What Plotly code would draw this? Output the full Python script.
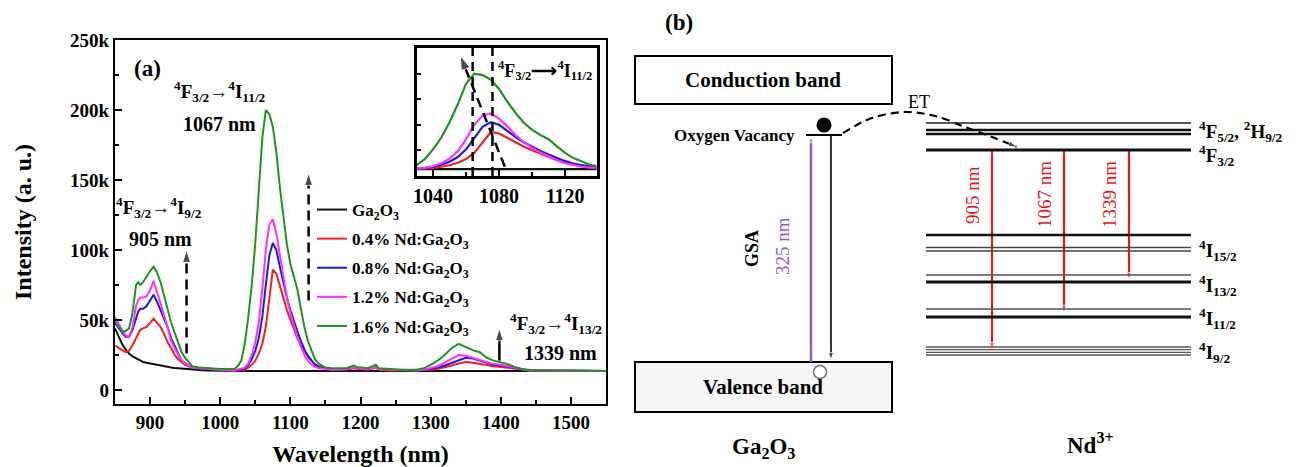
import plotly.graph_objects as go

W, H = 1301, 467
FONT = "Liberation Serif"

# ---------------- Panel (a) data (intensity in thousands) ----------------
wavelength = [850, 855, 860, 865, 870, 875, 880, 883, 886, 890,
              895, 900, 905, 910, 915, 920, 925, 930, 935, 940,
              945, 950, 960, 970, 980, 1000, 1020, 1025, 1030, 1035,
              1040, 1045, 1050, 1055, 1060, 1065, 1070, 1075, 1080, 1085,
              1090, 1095, 1100, 1105, 1110, 1115, 1120, 1125, 1130, 1135,
              1140, 1150, 1160, 1180, 1190, 1195, 1210, 1222, 1226, 1240,
              1260, 1280, 1290, 1300, 1310, 1320, 1330, 1340, 1350, 1360,
              1370, 1380, 1390, 1400, 1410, 1420, 1430, 1440, 1460, 1500,
              1550]

ga2o3 = [44, 38, 33, 29, 26, 24, 22.5, 22, 21, 20,
         19.5, 19, 18.5, 18, 17, 16.8, 16.5, 16, 15.7, 15.5,
         15.2, 15, 14.5, 14.2, 14, 13.8, 13.5, 13.5, 13.5, 13.5,
         13.5, 13.5, 13.5, 13.5, 13.5, 13.5, 13.5, 14, 13.5, 13.5,
         13.5, 13.5, 13.5, 13.5, 13.5, 13.5, 13.5, 13.5, 13.5, 13.5,
         13.5, 13.5, 13.5, 13.5, 13.5, 13.5, 13.5, 13.5, 13.5, 13.5,
         13.5, 13.5, 13.5, 13.5, 13.5, 13.5, 13.5, 13.5, 13.5, 13.5,
         13.5, 13.5, 13.5, 13.5, 13.5, 13.5, 13.5, 13.5, 13.5, 13.5,
         13.5]

nd04 = [32, 30, 28.5, 27, 28, 32, 37, 40, 43, 44,
        45, 48, 51, 48, 45, 40, 34, 30, 25, 22,
        20, 18, 16, 15.5, 15, 14.5, 14, 14, 14, 14.5,
        16, 18, 21, 26, 33, 45, 65, 86, 83, 75,
        66, 57, 50, 43, 37, 32, 27.5, 24, 21, 18.5,
        17, 15.5, 14.5, 14.5, 15.5, 15, 14.5, 16, 14.5, 14,
        14, 14, 14, 14.5, 15, 16, 17.5, 19, 20, 19.5,
        18.5, 17.5, 17, 16.5, 16, 15, 14.5, 14, 14, 13.8,
        13.5]

nd08 = [48, 44, 41, 38, 38, 43, 52, 56, 58, 58,
        60, 64, 68, 63, 57, 51, 45, 37, 32, 27,
        21, 19, 16, 15.5, 15, 14.5, 14, 14, 14.5, 15.5,
        18, 22, 28, 37, 52, 75, 96, 105, 100, 88,
        76, 66, 57, 49, 42, 35, 29, 24.5, 21, 18,
        16.5, 15.5, 14.5, 15, 16, 15.5, 15, 16.5, 15, 14.5,
        14, 14, 14.2, 15, 16, 17.5, 19.5, 21.5, 23, 22.5,
        21, 19, 18, 17.5, 16.5, 15.5, 14.5, 14, 14, 13.8,
        13.5]

nd12 = [52, 47, 43, 39, 38, 45, 60, 64, 66, 66,
        67, 71, 78, 70, 61, 53, 45, 35, 30, 26,
        21, 19, 16, 15.5, 15, 14.5, 14, 14.5, 15, 16,
        19, 25, 34, 48, 72, 100, 118, 122, 112, 97,
        80, 66, 55, 46, 38, 31, 25, 21, 18, 16.5,
        15.5, 15, 14.5, 15, 16, 15.5, 15, 16.5, 15, 14.5,
        14, 14, 14.5, 15.5, 17, 19.5, 22.5, 25, 24.5, 23,
        21.5, 19.5, 18.5, 18, 17, 15.5, 14.5, 14, 14, 13.8,
        13.5]

nd16 = [49, 45, 42, 42, 44, 55, 75, 77, 75, 77,
        81, 85, 88, 84, 77, 67, 57, 48, 41, 34,
        27, 23, 17, 16, 15.5, 15, 15, 17, 21, 33,
        52, 75, 105, 140, 180, 200, 197, 188, 170, 145,
        123, 104, 90, 80, 72, 58, 45, 35, 28, 22,
        19, 16, 15.5, 15.5, 17.5, 16.5, 15.5, 18, 15.5, 15,
        14.5, 14.5, 15.5, 18, 21, 25, 30, 33, 30.5, 28.5,
        27, 23, 21, 20, 18.5, 16.5, 15, 14.5, 14, 14,
        13.5]

series_names = ["Ga<sub>2</sub>O<sub>3</sub>",
                "0.4% Nd:Ga<sub>2</sub>O<sub>3</sub>",
                "0.8% Nd:Ga<sub>2</sub>O<sub>3</sub>",
                "1.2% Nd:Ga<sub>2</sub>O<sub>3</sub>",
                "1.6% Nd:Ga<sub>2</sub>O<sub>3</sub>"]
series_values = [ga2o3, nd04, nd08, nd12, nd16]
series_colors = ["#111111", "#f02020", "#1a1ae8", "#ff30ff", "#1f951f"]

y_ticks = [0, 50, 100, 150, 200, 250]
y_ticktext = ["0", "50k", "100k", "150k", "200k", "250k"]
x_ticks = [900, 1000, 1100, 1200, 1300, 1400, 1500]
inset_ticks = [1040, 1080, 1120]

# transition arrows in panel (a): wavelength, start, end (k)
arrow_wl = [952, 1126, 1398]
arrow_from = [26, 64, 21]
arrow_to = [100, 155, 44]
arrow_dash = ["10px,6px", "10px,6px", "solid"]

# inset guides
inset_guides = [1064, 1076]
inset_arrow_wl = [1083.5, 1056.5]
inset_arrow_int = [18, 235]

# ---------------- Panel (b) diagram geometry (pixel units) ----------------
level_y = [123, 130, 134, 150, 235, 247.5, 251, 275, 282, 309, 317, 347, 349.7, 352.3, 355]
level_w = [1.5, 2.5, 2.5, 3.2, 2.5, 1.5, 1.5, 1.4, 2.8, 1.4, 2.8, 1.3, 1.3, 1.3, 1.3]
level_c = ["#222", "#111", "#111", "#111", "#111", "#444", "#444", "#555", "#111",
           "#555", "#111", "#555", "#555", "#555", "#555"]
level_x0, level_x1 = 926, 1191
level_labels = ["<sup>4</sup>F<sub>5/2</sub>, <sup>2</sup>H<sub>9/2</sub>",
                "<sup>4</sup>F<sub>3/2</sub>",
                "<sup>4</sup>I<sub>15/2</sub>",
                "<sup>4</sup>I<sub>13/2</sub>",
                "<sup>4</sup>I<sub>11/2</sub>",
                "<sup>4</sup>I<sub>9/2</sub>"]
level_label_y = [131, 155, 250, 285, 318, 352]

emission_x = [992, 1064, 1129]
emission_to = [350, 313, 280]
emission_from = 150
emission_text = ["905 nm", "1067 nm", "1339 nm"]

et_x = [843, 872, 905, 935, 965, 992, 1017]
et_y = [133, 118, 112, 116, 127, 137, 147]

W_ = float(W)


def px(x):
    return x / W_


def py(y):
    return 1 - y / H


fig = go.Figure()

# main spectra
for i, (nm, vals, col) in enumerate(zip(series_names, series_values, series_colors)):
    fig.add_trace(go.Scatter(x=wavelength, y=vals, mode="lines", name=nm,
                             line=dict(color=col, width=2), legendgroup=f"g{i}",
                             xaxis="x", yaxis="y"))
# inset spectra
for i, (nm, vals, col) in enumerate(zip(series_names, series_values, series_colors)):
    fig.add_trace(go.Scatter(x=wavelength, y=vals, mode="lines", showlegend=False,
                             line=dict(color=col, width=2.2), xaxis="x2", yaxis="y2"))

# dashed arrows in main panel
for wl, a, b, d in zip(arrow_wl, arrow_from, arrow_to, arrow_dash):
    fig.add_trace(go.Scatter(x=[wl, wl], y=[a, b], mode="lines+markers", showlegend=False,
                             line=dict(color="black", width=2.5, dash=d),
                             marker=dict(symbol="arrow", size=[0, 13], angleref="previous",
                                         color="black"),
                             xaxis="x", yaxis="y"))

# inset guides and arrow
for g in inset_guides:
    fig.add_trace(go.Scatter(x=[g, g], y=[0, 250], mode="lines", showlegend=False,
                             line=dict(color="black", width=2.5, dash="9px,6px"),
                             xaxis="x2", yaxis="y2"))
fig.add_trace(go.Scatter(x=inset_arrow_wl, y=inset_arrow_int, mode="lines+markers",
                         showlegend=False,
                         line=dict(color="black", width=2.5, dash="10px,6px"),
                         marker=dict(symbol="arrow", size=[0, 15], angleref="previous",
                                     color="black"),
                         xaxis="x2", yaxis="y2"))

# ---------------- Panel (b) ----------------
shapes = []
# bands
shapes.append(dict(type="rect", xref="x3", yref="y3", x0=635, x1=892, y0=56, y1=104,
                   line=dict(color="black", width=2), fillcolor="white", layer="below"))
shapes.append(dict(type="rect", xref="x3", yref="y3", x0=635, x1=892, y0=362, y1=412,
                   line=dict(color="black", width=2), fillcolor="#f6f6f6", layer="below"))
# Nd levels
for yv, wv, cv in zip(level_y, level_w, level_c):
    shapes.append(dict(type="line", xref="x3", yref="y3", x0=level_x0, x1=level_x1,
                       y0=yv, y1=yv, line=dict(color=cv, width=wv)))
# oxygen vacancy level
shapes.append(dict(type="line", xref="x3", yref="y3", x0=806, x1=842, y0=135, y1=135,
                   line=dict(color="black", width=2)))

# GSA (purple) up arrow
fig.add_trace(go.Scatter(x=[811, 811], y=[362, 136], mode="lines+markers", showlegend=False,
                         line=dict(color="#8a5cc6", width=2.5),
                         marker=dict(symbol="arrow", size=[0, 7], angleref="previous",
                                     color="#8a5cc6"),
                         xaxis="x3", yaxis="y3"))
# recombination (black) down arrow
fig.add_trace(go.Scatter(x=[831, 831], y=[135, 360], mode="lines+markers", showlegend=False,
                         line=dict(color="black", width=1.6),
                         marker=dict(symbol="arrow", size=[0, 8], angleref="previous",
                                     color="black"),
                         xaxis="x3", yaxis="y3"))
# emission arrows
for ex, ey in zip(emission_x, emission_to):
    fig.add_trace(go.Scatter(x=[ex, ex], y=[emission_from, ey], mode="lines+markers",
                             showlegend=False, line=dict(color="#e8141c", width=2.2),
                             marker=dict(symbol="arrow", size=[0, 8], angleref="previous",
                                         color="#e8141c"),
                             xaxis="x3", yaxis="y3"))
# ET curve
fig.add_trace(go.Scatter(x=et_x, y=et_y, mode="lines", showlegend=False,
                         line=dict(color="black", width=2.2, dash="8px,5px", shape="spline"),
                         xaxis="x3", yaxis="y3"))
fig.add_trace(go.Scatter(x=et_x[-2:], y=et_y[-2:], mode="markers", showlegend=False,
                         marker=dict(symbol="arrow", size=[0, 9], angleref="previous",
                                     color="black"),
                         xaxis="x3", yaxis="y3"))
# electron and hole
fig.add_trace(go.Scatter(x=[824], y=[125], mode="markers", showlegend=False,
                         marker=dict(symbol="circle", size=15, color="black"),
                         xaxis="x3", yaxis="y3"))
fig.add_trace(go.Scatter(x=[820], y=[372], mode="markers", showlegend=False,
                         marker=dict(symbol="circle", size=13, color="white",
                                     line=dict(color="#777", width=1.5)),
                         xaxis="x3", yaxis="y3"))

ann = []


def txt(x, y, t, size, ref="paper", xanchor="center", yanchor="middle", color="black",
        weight="bold", angle=0):
    if ref == "paper":
        xx, yy, xr, yr = px(x), py(y), "paper", "paper"
    else:
        xx, yy, xr, yr = x, y, "x3", "y3"
    ann.append(dict(x=xx, y=yy, xref=xr, yref=yr, text=t, showarrow=False,
                    xanchor=xanchor, yanchor=yanchor, textangle=angle,
                    font=dict(family=FONT, size=size, color=color, weight=weight)))


# panel (a) texts
txt(147, 68, "(a)", 23)
txt(220, 91, "<sup>4</sup>F<sub>3/2</sub>→<sup>4</sup>I<sub>11/2</sub>", 19)
txt(219, 124, "1067 nm", 20)
txt(159, 207, "<sup>4</sup>F<sub>3/2</sub>→<sup>4</sup>I<sub>9/2</sub>", 19)
txt(160, 239, "905 nm", 20)
txt(556, 323, "<sup>4</sup>F<sub>3/2</sub>→<sup>4</sup>I<sub>13/2</sub>", 19)
txt(560, 353, "1339 nm", 20)
txt(545, 70, "<sup>4</sup>F<sub>3/2</sub>⟶<sup>4</sup>I<sub>11/2</sub>", 18)

# panel (b) texts
txt(679, 22, "(b)", 23, ref="x3")
txt(763, 80, "Conduction band", 21, ref="x3")
txt(763, 387, "Valence band", 21, ref="x3")
txt(763, 448, "Ga<sub>2</sub>O<sub>3</sub>", 23, ref="x3")
txt(1090, 443, "Nd<sup>3+</sup>", 23, ref="x3")
txt(797, 135, "Oxygen Vacancy", 17, ref="x3", xanchor="right")
txt(919, 102, "ET", 18, ref="x3", weight="normal")
txt(752, 249, "GSA", 18, ref="x3", angle=-90)
txt(782, 246, "325 nm", 19, ref="x3", angle=-90, color="#8a5cc6", weight="normal")
for ex, t in zip(emission_x, emission_text):
    txt(ex - 20, 195, t, 19, ref="x3", angle=-90, color="#e8141c", weight="normal")
for lab, ly in zip(level_labels, level_label_y):
    txt(1197, ly, lab, 19, ref="x3", xanchor="left")

axis_common = dict(showline=True, linecolor="black", mirror=True, showgrid=False,
                   zeroline=False, ticks="inside", tickcolor="black")

fig.update_layout(
    width=W, height=H, template="none",
    margin=dict(l=0, r=0, t=0, b=0),
    paper_bgcolor="white", plot_bgcolor="rgba(0,0,0,0)",
    font=dict(family=FONT, color="black"),
    showlegend=True,
    legend=dict(x=px(312), y=py(192), xanchor="left", yanchor="top",
                bgcolor="rgba(0,0,0,0)", borderwidth=0, tracegroupgap=4,
                font=dict(family=FONT, size=17, color="black", weight="bold")),
    xaxis=dict(domain=[px(115), px(606)], range=[850, 1550], anchor="y",
               tickvals=x_ticks, ticklen=7, tickwidth=2, linewidth=2.2,
               minor=dict(ticks="inside", dtick=50, tick0=850, ticklen=4, tickwidth=1.5,
                          tickcolor="black"),
               tickfont=dict(family=FONT, size=19, weight="bold"),
               title=dict(text="Wavelength (nm)", standoff=18,
                          font=dict(family=FONT, size=24, weight="bold")),
               **axis_common),
    yaxis=dict(domain=[py(404), py(40)], range=[-10, 250], anchor="x",
               tickvals=y_ticks, ticktext=y_ticktext, ticklen=7, tickwidth=2, linewidth=2.2,
               minor=dict(ticks="inside", dtick=25, tick0=0, ticklen=4, tickwidth=1.5,
                          tickcolor="black"),
               tickfont=dict(family=FONT, size=19, weight="bold"),
               title=dict(text="Intensity (a. u.)", standoff=32,
                          font=dict(family=FONT, size=24, weight="bold")),
               **axis_common),
    xaxis2=dict(domain=[px(416.5), px(596.5)], range=[1030, 1139], anchor="y2",
                tickvals=inset_ticks, ticklen=6, tickwidth=2, linewidth=2.6,
                minor=dict(ticks="inside", dtick=20, tick0=1040, ticklen=4, tickwidth=1.5,
                           tickcolor="black"),
                tickfont=dict(family=FONT, size=20, weight="bold"),
                **axis_common),
    yaxis2=dict(domain=[py(176), py(48)], range=[0, 250], anchor="x2",
                tickvals=[50, 100, 150, 200], showticklabels=False, ticklen=5, tickwidth=1.5,
                linewidth=2.6, **axis_common),
    xaxis3=dict(domain=[px(611), 1], range=[611, 1301], anchor="y3", visible=False,
                fixedrange=True),
    yaxis3=dict(domain=[0, 1], range=[467, 0], anchor="x3", visible=False,
                fixedrange=True),
    shapes=shapes,
    annotations=ann,
)

fig.write_html("out.html", config={"displayModeBar": False},
               post_script="document.body.style.margin='0';document.body.style.padding='0';")
